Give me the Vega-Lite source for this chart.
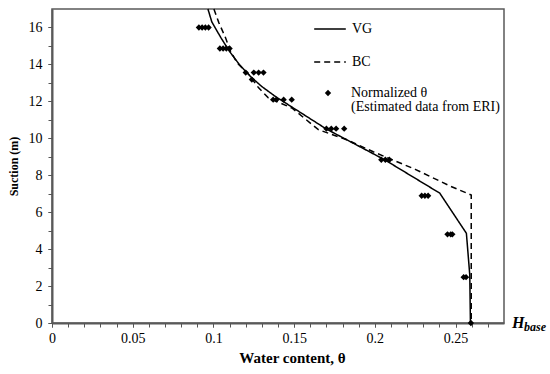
{
  "$schema": "https://vega.github.io/schema/vega-lite/v6.json",
  "width": 452,
  "height": 314,
  "autosize": {"type": "none"},
  "padding": {"left": 52, "top": 9, "right": 46, "bottom": 51},
  "background": "white",
  "config": {
    "font": "Liberation Serif, Times New Roman, DejaVu Serif, serif",
    "view": {"stroke": "#595959", "strokeWidth": 1.5},
    "axis": {
      "grid": false,
      "ticks": true,
      "domainColor": "#595959",
      "domainWidth": 2,
      "tickColor": "#555555",
      "tickWidth": 1,
      "tickSize": 4,
      "labelFont": "Liberation Serif, Times New Roman, DejaVu Serif, serif",
      "labelFontSize": 14,
      "labelColor": "black",
      "labelOverlap": false,
      "titleFont": "Liberation Serif, Times New Roman, DejaVu Serif, serif",
      "titleFontWeight": "bold",
      "titleColor": "black"
    },
    "axisY": {"labelOverlap": false},
    "legend": {
      "labelFont": "Liberation Serif, Times New Roman, DejaVu Serif, serif",
      "labelFontSize": 14,
      "labelColor": "black",
      "padding": 0,
      "symbolStrokeColor": "black",
      "symbolFillColor": "black",
      "symbolStrokeWidth": 1.5
    }
  },
  "resolve": {"axis": {"x": "independent", "y": "independent"}},
  "datasets": {
    "curves": [
      {"series": "VG", "theta": 0.0966, "s": 17},
      {"series": "VG", "theta": 0.099, "s": 16.3},
      {"series": "VG", "theta": 0.1046, "s": 15.45},
      {"series": "VG", "theta": 0.110, "s": 14.7},
      {"series": "VG", "theta": 0.116, "s": 14.0},
      {"series": "VG", "theta": 0.123, "s": 13.34},
      {"series": "VG", "theta": 0.130, "s": 12.8},
      {"series": "VG", "theta": 0.1386, "s": 12.25},
      {"series": "VG", "theta": 0.170, "s": 10.5},
      {"series": "VG", "theta": 0.206, "s": 8.84},
      {"series": "VG", "theta": 0.2402, "s": 7.03},
      {"series": "VG", "theta": 0.2567, "s": 4.86},
      {"series": "VG", "theta": 0.2588, "s": 2.6},
      {"series": "VG", "theta": 0.2592, "s": 0},
      {"series": "BC", "theta": 0.1003, "s": 17},
      {"series": "BC", "theta": 0.1034, "s": 16.25},
      {"series": "BC", "theta": 0.1075, "s": 15.44},
      {"series": "BC", "theta": 0.1106, "s": 14.71},
      {"series": "BC", "theta": 0.1147, "s": 14.08},
      {"series": "BC", "theta": 0.1219, "s": 13.45},
      {"series": "BC", "theta": 0.128, "s": 12.73},
      {"series": "BC", "theta": 0.134, "s": 12.19},
      {"series": "BC", "theta": 0.1486, "s": 11.64},
      {"series": "BC", "theta": 0.165, "s": 10.47},
      {"series": "BC", "theta": 0.1826, "s": 9.92},
      {"series": "BC", "theta": 0.199, "s": 9.27},
      {"series": "BC", "theta": 0.225, "s": 8.32},
      {"series": "BC", "theta": 0.247, "s": 7.4},
      {"series": "BC", "theta": 0.2597, "s": 6.93},
      {"series": "BC", "theta": 0.2597, "s": 0}
    ],
    "pts": [
      {"series": "Normalized θ", "theta": 0.091, "s": 16},
      {"series": "Normalized θ", "theta": 0.093, "s": 16},
      {"series": "Normalized θ", "theta": 0.095, "s": 16},
      {"series": "Normalized θ", "theta": 0.097, "s": 16},
      {"series": "Normalized θ", "theta": 0.104, "s": 14.86},
      {"series": "Normalized θ", "theta": 0.106, "s": 14.86},
      {"series": "Normalized θ", "theta": 0.108, "s": 14.86},
      {"series": "Normalized θ", "theta": 0.110, "s": 14.86},
      {"series": "Normalized θ", "theta": 0.120, "s": 13.56},
      {"series": "Normalized θ", "theta": 0.125, "s": 13.56},
      {"series": "Normalized θ", "theta": 0.128, "s": 13.56},
      {"series": "Normalized θ", "theta": 0.131, "s": 13.56},
      {"series": "Normalized θ", "theta": 0.1238, "s": 13.18},
      {"series": "Normalized θ", "theta": 0.137, "s": 12.09},
      {"series": "Normalized θ", "theta": 0.139, "s": 12.09},
      {"series": "Normalized θ", "theta": 0.1435, "s": 12.09},
      {"series": "Normalized θ", "theta": 0.1485, "s": 12.09},
      {"series": "Normalized θ", "theta": 0.170, "s": 10.52},
      {"series": "Normalized θ", "theta": 0.173, "s": 10.52},
      {"series": "Normalized θ", "theta": 0.176, "s": 10.52},
      {"series": "Normalized θ", "theta": 0.181, "s": 10.52},
      {"series": "Normalized θ", "theta": 0.204, "s": 8.84},
      {"series": "Normalized θ", "theta": 0.2065, "s": 8.84},
      {"series": "Normalized θ", "theta": 0.209, "s": 8.84},
      {"series": "Normalized θ", "theta": 0.229, "s": 6.89},
      {"series": "Normalized θ", "theta": 0.231, "s": 6.89},
      {"series": "Normalized θ", "theta": 0.233, "s": 6.89},
      {"series": "Normalized θ", "theta": 0.245, "s": 4.8},
      {"series": "Normalized θ", "theta": 0.247, "s": 4.8},
      {"series": "Normalized θ", "theta": 0.248, "s": 4.8},
      {"series": "Normalized θ", "theta": 0.255, "s": 2.48},
      {"series": "Normalized θ", "theta": 0.2565, "s": 2.48},
      {"series": "Normalized θ", "theta": 0.2595, "s": 0}
    ],
    "hbase": [
      {"theta": 0.28, "s": 0, "main": "H", "sub": "base"}
    ]
  },
  "layer": [
    {
      "data": {"name": "curves"},
      "mark": {"type": "line", "color": "black", "strokeWidth": 1.5},
      "encoding": {
        "x": {
          "field": "theta",
          "type": "quantitative",
          "scale": {"domain": [0, 0.28], "nice": false, "zero": false},
          "axis": {
            "orient": "bottom",
            "title": "Water content, θ",
            "titleFontSize": 15,
            "titlePadding": 5,
            "titleX": 240,
            "labelPadding": 4,
            "labelFlush": false,
            "labelOverlap": false,
            "labelBound": false,
            "ticks": true,
            "values": [0, 0.05, 0.1, 0.15, 0.2, 0.25],
            "format": "~g"
          }
        },
        "y": {
          "field": "s",
          "type": "quantitative",
          "scale": {"domain": [0, 17], "nice": false},
          "axis": {
            "orient": "left",
            "title": "Suction (m)",
            "titleFontSize": 12,
            "titlePadding": 8,
            "labelPadding": 6,
            "labelFlush": false,
            "labelOverlap": false,
            "labelBound": false,
            "ticks": true,
            "values": [0, 2, 4, 6, 8, 10, 12, 14, 16]
          }
        },
        "strokeDash": {
          "field": "series",
          "type": "nominal",
          "scale": {"domain": ["VG", "BC"], "range": [[1, 0], [6, 4]]},
          "legend": {
            "title": null,
            "orient": "none",
            "legendX": 261,
            "legendY": 3,
            "labelOffset": 5,
            "rowPadding": 9,
            "symbolType": "stroke",
            "encode": {
              "symbols": {
                "update": {
                  "size": {"value": 1000}
                }
              }
            }
          }
        },
        "order": {"field": "s", "sort": "descending"}
      }
    },
    {
      "data": {"name": "pts"},
      "mark": {"type": "point", "shape": "diamond", "filled": true, "color": "black", "size": 40, "opacity": 1},
      "encoding": {
        "x": {
          "field": "theta",
          "type": "quantitative",
          "axis": {
            "orient": "bottom",
            "title": null,
            "labels": false,
            "domain": false,
            "ticks": true,
            "values": [0, 0.01, 0.02, 0.03, 0.04, 0.05, 0.06, 0.07, 0.08, 0.09, 0.1, 0.11, 0.12, 0.13, 0.14, 0.15, 0.16, 0.17, 0.18, 0.19, 0.2, 0.21, 0.22, 0.23, 0.24, 0.25, 0.26, 0.27]
          }
        },
        "y": {
          "field": "s",
          "type": "quantitative",
          "axis": {
            "orient": "left",
            "title": null,
            "labels": false,
            "domain": false,
            "ticks": true,
            "values": [0, 1, 2, 3, 4, 5, 6, 7, 8, 9, 10, 11, 12, 13, 14, 15, 16]
          }
        },
        "shape": {
          "field": "series",
          "type": "nominal",
          "scale": {"domain": ["Normalized θ", "(Estimated data from ERI)"], "range": ["diamond", "M0,0"]},
          "legend": {
            "title": null,
            "orient": "none",
            "legendX": 269,
            "legendY": 77,
            "labelOffset": 16,
            "rowPadding": 0,
            "symbolSize": 40
          }
        }
      }
    },
    {
      "data": {"name": "hbase"},
      "mark": {"type": "text", "align": "left", "baseline": "middle", "dx": 8, "font": "Liberation Serif, Times New Roman, DejaVu Serif, serif", "fontSize": 16, "fontWeight": "bold", "fontStyle": "italic", "color": "black"},
      "encoding": {
        "x": {"field": "theta", "type": "quantitative", "axis": null},
        "y": {"field": "s", "type": "quantitative", "axis": null},
        "text": {"field": "main"}
      }
    },
    {
      "data": {"name": "hbase"},
      "mark": {"type": "text", "align": "left", "baseline": "middle", "dx": 20, "dy": 4, "font": "Liberation Serif, Times New Roman, DejaVu Serif, serif", "fontSize": 12, "fontWeight": "bold", "fontStyle": "italic", "color": "black"},
      "encoding": {
        "x": {"field": "theta", "type": "quantitative", "axis": null},
        "y": {"field": "s", "type": "quantitative", "axis": null},
        "text": {"field": "sub"}
      }
    }
  ]
}
